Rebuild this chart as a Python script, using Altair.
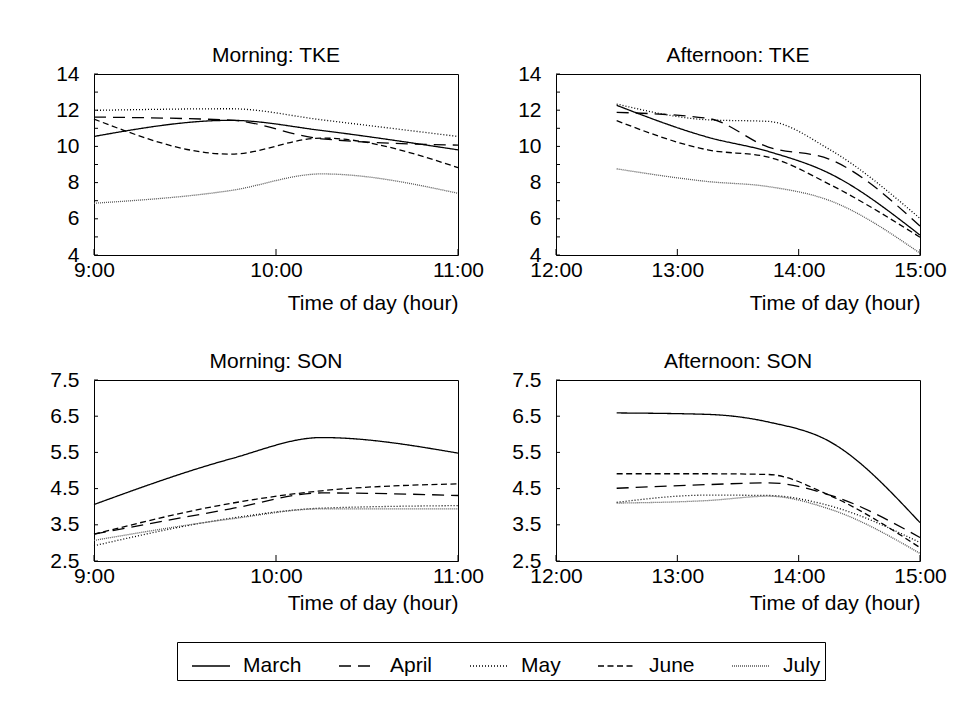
import altair as alt
import pandas as pd

FONT = "Liberation Sans"

months = ["March", "April", "May", "June", "July"]
month_dash = [[1, 0], [12, 7], [1, 2], [6, 3.5], [1, 1]]
month_color = ["#000000", "#000000", "#000000", "#000000", "#555555"]

morning_hours = [9.0, 9.75, 10.25, 11.0]
afternoon_hours = [12.5, 13.25, 13.75, 14.25, 15.0]

# Morning: TKE
tke_am_march = [10.55, 11.44, 10.88, 9.81]
tke_am_april = [11.62, 11.45, 10.42, 10.07]
tke_am_may = [11.99, 12.08, 11.47, 10.55]
tke_am_june = [11.51, 9.57, 10.46, 8.83]
tke_am_july = [6.86, 7.56, 8.48, 7.41]

# Afternoon: TKE
tke_pm_march = [12.27, 10.51, 9.72, 8.52, 5.10]
tke_pm_april = [11.88, 11.55, 9.96, 9.30, 5.60]
tke_pm_may = [12.34, 11.47, 11.38, 9.85, 6.02]
tke_pm_june = [11.42, 9.81, 9.41, 7.92, 4.98]
tke_pm_july = [8.76, 8.06, 7.78, 7.02, 4.10]

# Morning: SON
son_am_march = [4.06, 5.32, 5.91, 5.48]
son_am_april = [3.24, 3.94, 4.38, 4.31]
son_am_may = [2.92, 3.68, 3.96, 4.03]
son_am_june = [3.24, 4.09, 4.44, 4.63]
son_am_july = [3.07, 3.66, 3.94, 3.94]

# Afternoon: SON
son_pm_march = [6.59, 6.55, 6.34, 5.81, 3.56]
son_pm_april = [4.51, 4.61, 4.66, 4.33, 3.15]
son_pm_may = [4.12, 4.32, 4.31, 4.03, 3.01]
son_pm_june = [4.91, 4.91, 4.89, 4.32, 2.87]
son_pm_july = [4.10, 4.17, 4.29, 3.94, 2.71]

morning_xticks = [9, 10, 11]
afternoon_xticks = [12, 13, 14, 15]
tke_ylabels = [4, 6, 8, 10, 12, 14]
tke_yticks = [4, 5, 6, 7, 8, 9, 10, 11, 12, 13, 14]
son_ylabels = [2.5, 3.5, 4.5, 5.5, 6.5, 7.5]
son_yticks = [2.5, 3.5, 4.5, 5.5, 6.5, 7.5]

W, H = 364, 181


def frame(hours, series):
    rows = []
    for m, vals in zip(months, series):
        for h, v in zip(hours, vals):
            rows.append({"hour": h, "value": v, "month": m})
    return pd.DataFrame(rows)


def panel(df, title, xdom, xticks, ydom, ylabels, yticks, yfmt, title_pad):
    xs = alt.Scale(domain=xdom, nice=False, zero=False)
    ys = alt.Scale(domain=ydom, nice=False, zero=False)
    xax = alt.Axis(values=xticks, labelExpr="floor(datum.value) + ':00'",
                   title="Time of day (hour)", titleAnchor="end",
                   titlePadding=title_pad, labelPadding=4)
    yax = alt.Axis(values=ylabels, format=yfmt, title=None, labelPadding=15)
    lines = alt.Chart(df).mark_line(interpolate="monotone", strokeWidth=1.3).encode(
        x=alt.X("hour:Q", scale=xs, axis=xax),
        y=alt.Y("value:Q", scale=ys, axis=yax),
        strokeDash=alt.StrokeDash("month:N", sort=months,
                                  scale=alt.Scale(domain=months, range=month_dash),
                                  legend=alt.Legend(title=None)),
        color=alt.Color("month:N", sort=months,
                        scale=alt.Scale(domain=months, range=month_color),
                        legend=alt.Legend(title=None)),
        detail="month:N",
    )
    ytk = alt.Chart(pd.DataFrame({"value": yticks})).mark_rule(
        color="black", strokeWidth=1).encode(
        y=alt.Y("value:Q", scale=ys, axis=yax),
        x=alt.value(0), x2=alt.value(4))
    xtk = alt.Chart(pd.DataFrame({"hour": xticks})).mark_rule(
        color="black", strokeWidth=1).encode(
        x=alt.X("hour:Q", scale=xs, axis=xax),
        y=alt.value(H), y2=alt.value(H - 6))
    return alt.layer(lines, ytk, xtk).properties(
        width=W, height=H, title=alt.TitleParams(title, offset=-3))


p1 = panel(frame(morning_hours, [tke_am_march, tke_am_april, tke_am_may, tke_am_june, tke_am_july]),
           "Morning: TKE", [9, 11], morning_xticks, [4, 14], tke_ylabels, tke_yticks, "d", 12)
p2 = panel(frame(afternoon_hours, [tke_pm_march, tke_pm_april, tke_pm_may, tke_pm_june, tke_pm_july]),
           "Afternoon: TKE", [12, 15], afternoon_xticks, [4, 14], tke_ylabels, tke_yticks, "d", 12)
p3 = panel(frame(morning_hours, [son_am_march, son_am_april, son_am_may, son_am_june, son_am_july]),
           "Morning: SON", [9, 11], morning_xticks, [2.5, 7.5], son_ylabels, son_yticks, ".1f", 6)
p4 = panel(frame(afternoon_hours, [son_pm_march, son_pm_april, son_pm_may, son_pm_june, son_pm_july]),
           "Afternoon: SON", [12, 15], afternoon_xticks, [2.5, 7.5], son_ylabels, son_yticks, ".1f", 6)

chart = alt.concat(p1, p2, p3, p4, columns=2,
                   spacing={"row": 125, "column": 98}).properties(
    padding={"left": 41, "top": 36, "right": 5, "bottom": 5},
    bounds="flush",
).configure(
    font=FONT,
).configure_view(
    stroke="black", strokeWidth=1,
).configure_axis(
    domain=False, ticks=False, grid=False,
    labelFont=FONT, labelFontSize=21, labelColor="black",
    titleFont=FONT, titleFontSize=21, titleFontWeight="normal", titleColor="black",
    labelFlush=False, labelOverlap=False,
).configure_title(
    font=FONT, fontSize=21, fontWeight="normal", color="black", anchor="middle",
).configure_legend(
    orient="none", legendX=83, legendY=568, direction="horizontal", columns=5,
    strokeColor="black", padding=4, symbolOffset=10, symbolType="stroke", symbolSize=1444,
    symbolStrokeWidth=1.3, labelFont=FONT, labelFontSize=21, labelColor="black",
    labelOffset=12, columnPadding=26, fillColor="white",
)

chart.save("out.html", embed_options={"renderer": "svg", "actions": False})
